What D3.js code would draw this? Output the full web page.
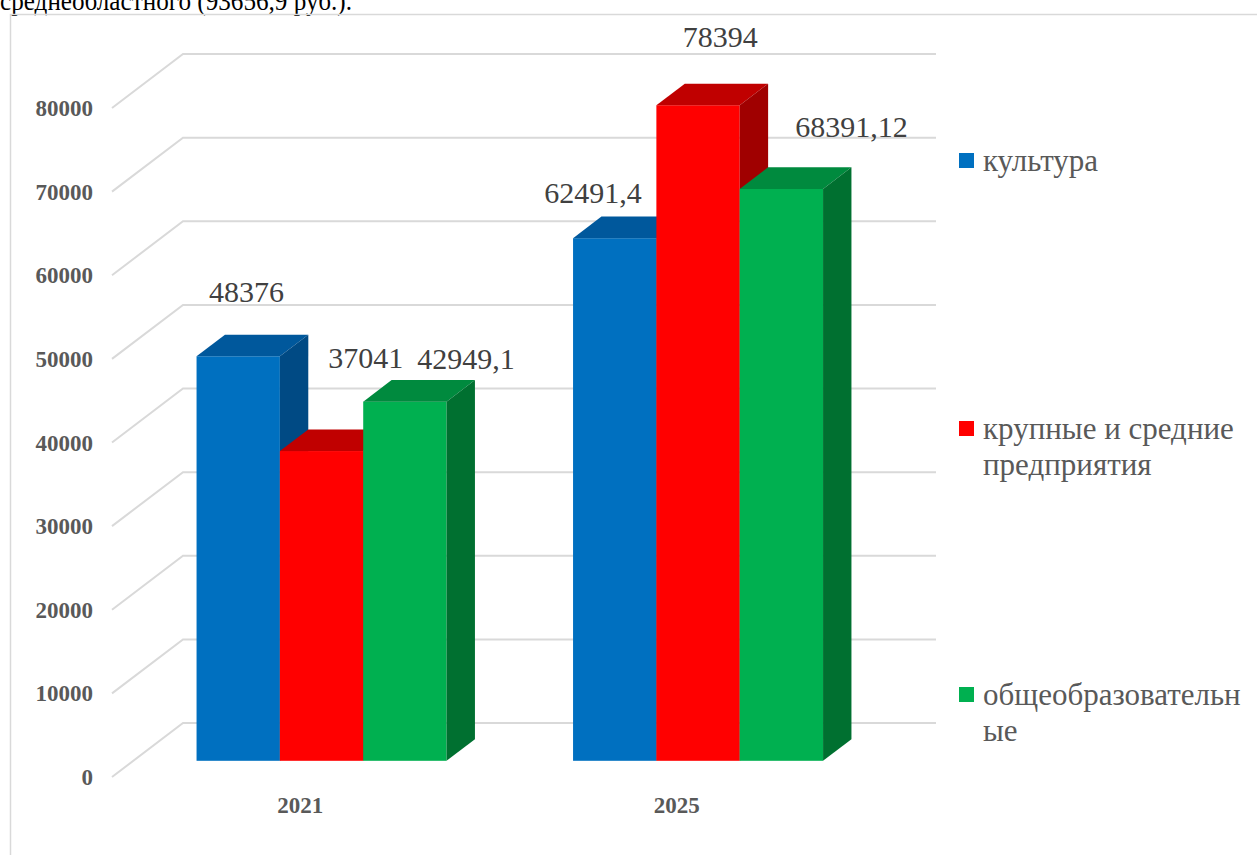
<!DOCTYPE html>
<html>
<head>
<meta charset="utf-8">
<script src="https://cdn.jsdelivr.net/npm/d3@7"></script>
<style>
  body { margin: 0; background: #fff; }
  svg { display: block; }
</style>
</head>
<body>
<script>
// chart values
var categories = ["2021", "2025"];
var seriesNames = ["культура", "крупные и средние предприятия", "общеобразовательные"];
var legendLines = [["культура"], ["крупные и средние", "предприятия"], ["общеобразовательн", "ые"]];
var cultura = [48376, 62491.4];
var enterprises = [37041, 78394];
var schools = [42949.1, 68391.12];
var yTicks = [0, 10000, 20000, 30000, 40000, 50000, 60000, 70000, 80000];

// the data labels were dragged by hand in the original, so nudge them
var labelShift = [
    [[-6, -23], [-36, -4]],
    [[30, -51], [8, -27]],
    [[47, -1], [56, -20]]
];

var colors = [
    { front: "#0070C0", top: "#00589C", side: "#004A84" },
    { front: "#FF0000", top: "#C00000", side: "#A00000" },
    { front: "#00B050", top: "#008A3E", side: "#007030" }
];

function drawChart() {
    var width = 1257;
    var height = 855;
    var font = "'Liberation Serif', 'Times New Roman', serif";

    // oblique depth of the whole plot and of one bar
    var wallDx = 71, wallDy = -54;
    var barFront = 0.3, barDepth = 0.4;

    var series = [cultura, enterprises, schools];

    var svg = d3.select("body")
                .append("svg")
                .attr("width", width)
                .attr("height", height)
                .style("font-family", font);

    // tail of the sentence above the chart, cut by the screenshot
    svg.append("text")
        .attr("x", 0)
        .attr("y", 10)
        .attr("textLength", 352)
        .attr("lengthAdjust", "spacingAndGlyphs")
        .style("font-size", "27px")
        .attr("fill", "#000")
        .text("среднеобластного (93656,9 руб.).");

    svg.append("rect")
        .attr("x", 10.5)
        .attr("y", 14.5)
        .attr("width", 1300)
        .attr("height", 900)
        .attr("fill", "none")
        .attr("stroke", "#D9D9D9")
        .attr("stroke-width", 1.5);

    var xScale = d3.scaleBand()
                    .domain(categories)
                    .range([112, 865])
                    .paddingInner(0.336)
                    .paddingOuter(0.168);

    var xSub = d3.scaleBand()
                    .domain(d3.range(series.length))
                    .range([0, xScale.bandwidth()]);

    var yScale = d3.scaleLinear()
                    .domain([0, 80000])
                    .range([777, 108]);

    // gridlines: side wall diagonal + back wall horizontal
    svg.append("g")
        .selectAll("polyline")
        .data(yTicks)
        .enter()
        .append("polyline")
        .attr("points", function(d) {
            var y = yScale(d);
            return [112, y, 112 + wallDx, y + wallDy, 865 + wallDx, y + wallDy].join(",");
        })
        .attr("fill", "none")
        .attr("stroke", "#D9D9D9")
        .attr("stroke-width", 2);

    svg.append("g")
        .selectAll("text")
        .data(yTicks)
        .enter()
        .append("text")
        .attr("x", 93)
        .attr("y", function(d) { return yScale(d) + 8; })
        .attr("text-anchor", "end")
        .style("font-size", "23px")
        .style("font-weight", "bold")
        .attr("fill", "#595959")
        .text(function(d) { return d; });

    svg.append("g")
        .selectAll("text")
        .data(categories)
        .enter()
        .append("text")
        .attr("x", function(d) { return xScale(d) + xScale.bandwidth() / 2; })
        .attr("y", 813)
        .attr("text-anchor", "middle")
        .style("font-size", "23px")
        .style("font-weight", "bold")
        .attr("fill", "#595959")
        .text(function(d) { return d; });

    // bars, left to right so later bars cover the sides of earlier ones
    var fx = barFront * wallDx, fy = barFront * wallDy;
    var dx = barDepth * wallDx, dy = barDepth * wallDy;
    var bars = svg.append("g");
    var labels = [];

    categories.forEach(function(cat, ci) {
        series.forEach(function(vals, si) {
            var v = vals[ci];
            var x0 = xScale(cat) + xSub(si) + fx;
            var x1 = x0 + xSub.bandwidth();
            var yb = yScale(0) + fy;
            var yt = yScale(v) + fy;
            var c = colors[si];

            bars.append("rect")
                .attr("x", x0)
                .attr("y", yt)
                .attr("width", x1 - x0)
                .attr("height", yb - yt)
                .attr("fill", c.front);

            bars.append("polygon")
                .attr("points", [x0, yt, x0 + dx, yt + dy, x1 + dx, yt + dy, x1, yt].join(","))
                .attr("fill", c.top);

            bars.append("polygon")
                .attr("points", [x1, yt, x1 + dx, yt + dy, x1 + dx, yb + dy, x1, yb].join(","))
                .attr("fill", c.side);

            labels.push({
                x: (x0 + x1) / 2 + dx / 2 + labelShift[si][ci][0],
                y: yt + dy - 10 + labelShift[si][ci][1],
                text: String(v).replace(".", ",")
            });
        });
    });

    svg.append("g")
        .selectAll("text")
        .data(labels)
        .enter()
        .append("text")
        .attr("x", function(d) { return d.x; })
        .attr("y", function(d) { return d.y; })
        .attr("text-anchor", "middle")
        .style("font-size", "30px")
        .attr("fill", "#404040")
        .text(function(d) { return d.text; });

    // legend
    var legendY = [153, 421, 687];
    var legend = svg.append("g");
    legendLines.forEach(function(lines, i) {
        legend.append("rect")
            .attr("x", 959)
            .attr("y", legendY[i])
            .attr("width", 15)
            .attr("height", 15)
            .attr("fill", colors[i].front);

        var t = legend.append("text")
            .attr("x", 983)
            .attr("y", legendY[i] + 18)
            .style("font-size", "31px")
            .attr("fill", "#595959");

        lines.forEach(function(line, li) {
            t.append("tspan")
                .attr("x", 983)
                .attr("dy", li === 0 ? 0 : 36)
                .text(line);
        });
    });
}

window.onload = function() {
    drawChart();
};
</script>
</body>
</html>
